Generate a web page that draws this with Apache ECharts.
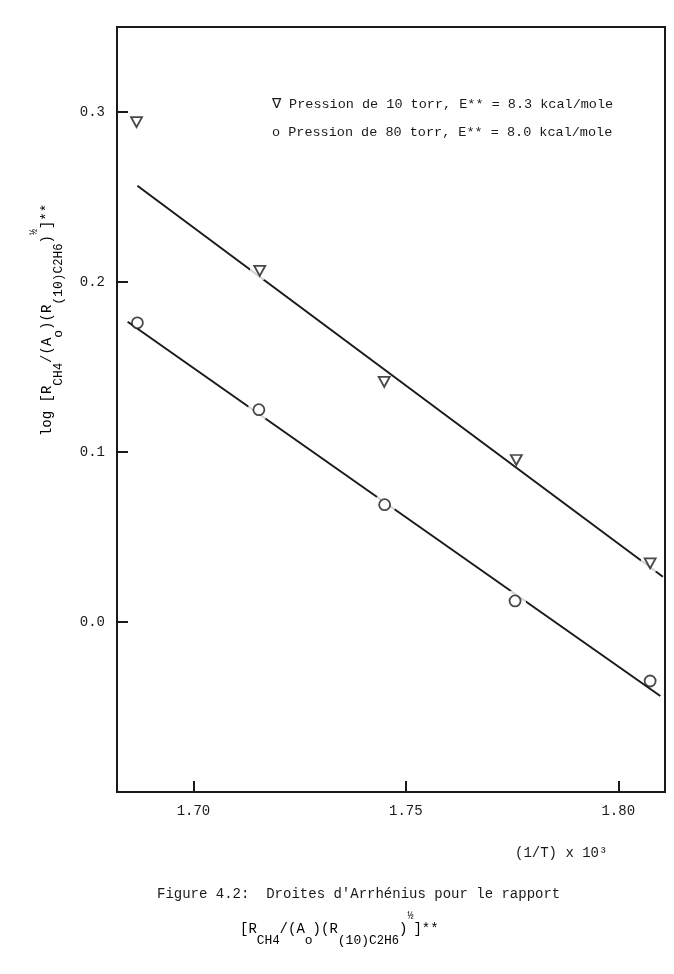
<!DOCTYPE html>
<html><head><meta charset="utf-8">
<script src="https://cdn.jsdelivr.net/npm/echarts@6/dist/echarts.min.js"></script>
<style>html,body{margin:0;padding:0;background:#fff}#c{width:674px;height:974px}</style>
</head><body><div id="c"></div>
<script>
// ---- data ----
const triX = [1.6866, 1.7156, 1.7449, 1.7760, 1.8075];
const triY = [0.294, 0.2066, 0.1412, 0.0953, 0.0345];
const circX = [1.6868, 1.7154, 1.7450, 1.7757, 1.8075];
const circY = [0.176, 0.1249, 0.069, 0.0124, -0.0347];
const fitTriX = [1.6868, 1.8105];
const fitTriY = [0.2566, 0.0266];
const fitCircX = [1.6845, 1.8099];
const fitCircY = [0.1766, -0.0435];
const triGap = [1, 4];
const circGap = [1, 2, 3];
const xTicks = [1.70, 1.75, 1.80];
const yTicks = [0.0, 0.1, 0.2, 0.3];
const legendLines = [
  '\u2207 Pression de 10 torr, E** = 8.3 kcal/mole',
  'o Pression de 80 torr, E** = 8.0 kcal/mole'
];
const xName = '(1/T) x 10\u00b3';
const caption1 = 'Figure 4.2:  Droites d\'Arrh\u00e9nius pour le rapport';

const FONT = 'Liberation Mono';
const INK = '#1a1a1a';
const pts = (xs, ys) => xs.map((x, i) => [x, ys[i]]);
const pick = (arr, idx) => idx.map(i => arr[i]);

const base = {fontFamily: FONT, fontSize: 14, lineHeight: 36, verticalAlign: 'middle', color: INK};
const sub = {fontFamily: FONT, fontSize: 13, lineHeight: 24, verticalAlign: 'bottom', color: INK};
const sub2 = {fontFamily: FONT, fontSize: 12, lineHeight: 18, verticalAlign: 'bottom', color: INK};
const sup = {fontFamily: FONT, fontSize: 10, lineHeight: 20, verticalAlign: 'top', color: INK};
const richSet = {n: base, s: sub, t: sub2, p: sup};
const formula = '{n|[R}{s|CH}{t|4}{n|/(A}{s|o}{n|)(R}{s|(10)C}{t|2}{s|H}{t|6}{n|)}{p|\u00bd}{n|]**}';

const chart = echarts.init(document.getElementById('c'), null, {renderer: 'canvas'});
chart.setOption({
  animation: false,
  backgroundColor: '#fff',
  grid: {left: 117, right: 9, top: 27, bottom: 182, show: true, borderColor: INK, borderWidth: 2, backgroundColor: 'transparent'},
  xAxis: {
    type: 'value', min: 1.682, max: 1.811,
    splitLine: {show: false},
    axisLine: {onZero: false, lineStyle: {color: INK, width: 2}},
    axisTick: {inside: true, length: 11, lineStyle: {color: INK, width: 2}, customValues: xTicks},
    axisLabel: {customValues: xTicks, formatter: v => v.toFixed(2), fontFamily: FONT, fontSize: 14, color: INK, margin: 12}
  },
  yAxis: {
    type: 'value', min: -0.1, max: 0.35, interval: 0.1,
    splitLine: {show: false},
    axisLine: {onZero: false, lineStyle: {color: INK, width: 2}},
    axisTick: {inside: true, length: 11, lineStyle: {color: INK, width: 2}, customValues: yTicks},
    axisLabel: {customValues: yTicks, formatter: v => v.toFixed(1), fontFamily: FONT, fontSize: 14, color: INK, margin: 12}
  },
  series: [
    {type: 'line', data: pts(fitTriX, fitTriY), symbol: 'none', lineStyle: {color: INK, width: 2}, z: 2},
    {type: 'line', data: pts(fitCircX, fitCircY), symbol: 'none', lineStyle: {color: INK, width: 2}, z: 2},
    {type: 'scatter', data: pts(pick(triX, triGap), pick(triY, triGap)), symbol: 'circle', symbolSize: 20, itemStyle: {color: '#fff'}, z: 3},
    {type: 'scatter', data: pts(pick(circX, circGap), pick(circY, circGap)), symbol: 'circle', symbolSize: 22, itemStyle: {color: '#fff'}, z: 3},
    {type: 'scatter', data: pts(triX, triY), symbol: 'triangle', symbolRotate: 180, symbolSize: [11, 10], itemStyle: {color: '#fff', borderColor: INK, borderWidth: 1.8}, z: 4},
    {type: 'scatter', data: pts(circX, circY), symbol: 'circle', symbolSize: 11, itemStyle: {color: '#fff', borderColor: INK, borderWidth: 1.8}, z: 4}
  ],
  graphic: [
    {type: 'text', x: 272, y: 104, style: {text: legendLines[0], font: '13.5px "' + FONT + '"', fill: INK, verticalAlign: 'middle'}},
    {type: 'text', x: 272, y: 132, style: {text: legendLines[1], font: '13.5px "' + FONT + '"', fill: INK, verticalAlign: 'middle'}},
    {type: 'text', x: 515, y: 853, style: {text: xName, font: '14px "' + FONT + '"', fill: INK, verticalAlign: 'middle'}},
    {type: 'text', x: 157, y: 894, style: {text: caption1, font: '14px "' + FONT + '"', fill: INK, verticalAlign: 'middle'}},
    {type: 'text', x: 240, y: 929, style: {text: formula, rich: richSet, verticalAlign: 'middle'}},
    {type: 'text', x: 47, y: 320, rotation: Math.PI / 2, style: {text: '{n|log }' + formula, rich: richSet, align: 'center', verticalAlign: 'middle'}}
  ]
});
</script></body></html>
